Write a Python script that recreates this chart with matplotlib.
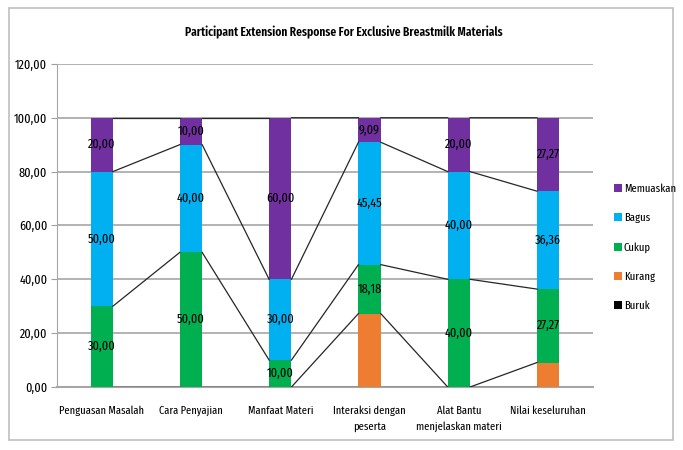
import matplotlib
matplotlib.use("Agg")
import matplotlib.pyplot as plt
from matplotlib.patches import Rectangle
import numpy as np

plt.rcParams['font.family'] = ['Fira Sans Extra Condensed', 'DejaVu Sans']

categories = ["Penguasan Masalah", "Cara Penyajian", "Manfaat Materi",
              "Interaksi dengan\npeserta", "Alat Bantu\nmenjelaskan materi", "Nilai keseluruhan"]
buruk = [0, 0, 0, 0, 0, 0]
kurang = [0, 0, 0, 27.27, 0, 9.09]
cukup = [30.00, 50.00, 10.00, 18.18, 40.00, 27.27]
bagus = [50.00, 40.00, 30.00, 45.45, 40.00, 36.36]
memuaskan = [20.00, 10.00, 60.00, 9.09, 20.00, 27.27]
yticks = [0, 20, 40, 60, 80, 100, 120]

series = [("Buruk", buruk, "#000000", False),
          ("Kurang", kurang, "#ED7D31", False),
          ("Cukup", cukup, "#00B050", True),
          ("Bagus", bagus, "#00B0F0", True),
          ("Memuaskan", memuaskan, "#7030A0", True)]

fig = plt.figure(figsize=(6.83, 4.5), dpi=100)
fig.patches.append(Rectangle((0.013, 0.022), 0.973, 0.96, transform=fig.transFigure,
                             fill=False, edgecolor="#BFBFBF", linewidth=1.2))
ax = fig.add_axes([0.0835, 0.14, 0.7845, 0.718])

x = np.arange(len(categories))
w = 0.25
bottom = np.zeros(len(categories))
handles = []
for name, vals, color, lab in series:
    v = np.array(vals, dtype=float)
    b = ax.bar(x, v, w, bottom=bottom, color=color, label=name, zorder=3)
    handles.append(b)
    if lab:
        for xi, vi, bi in zip(x, v, bottom):
            if vi > 0:
                ax.text(xi, bi + vi / 2, f"{vi:.2f}".replace(".", ","), ha="center", va="center",
                        fontsize=9.5, color="black", zorder=5)
    top = bottom + v
    for i in range(len(categories) - 1):
        ax.plot([x[i] + w / 2, x[i + 1] - w / 2], [top[i], top[i + 1]], color="#262626",
                linewidth=0.9, zorder=4)
    bottom = top

ax.set_xlim(-0.5, len(categories) - 0.5)
ax.set_ylim(0, 120)
ax.set_yticks(yticks)
ax.set_yticklabels([f"{t:.2f}".replace(".", ",") for t in yticks], fontsize=9.5)
ax.set_xticks(x)
ax.set_xticklabels(categories, fontsize=8.2, linespacing=1.65)
ax.tick_params(axis="x", length=0, pad=13)
ax.tick_params(axis="y", length=4, color="#A0A0A0", pad=3)
ax.yaxis.grid(True, color="#A6A6A6", linewidth=1.2, zorder=0)
for s in ["top", "right"]:
    ax.spines[s].set_visible(False)
ax.spines["left"].set_color("#A6A6A6")
ax.spines["bottom"].set_color("#A6A6A6")
ax.spines["bottom"].set_linewidth(1.5)

fig.text(0.504, 0.928, "Participant Extension Response For Exclusive Breastmilk Materials",
         ha="center", va="center", fontsize=9, fontweight="semibold")

leg = fig.legend(handles[::-1], [s[0] for s in series][::-1], loc="center left",
                 bbox_to_anchor=(0.884, 0.45), frameon=False, fontsize=8.3,
                 handlelength=0.7, handleheight=0.7, labelspacing=1.6, handletextpad=0.15)

fig.savefig("out.png", dpi=100)
